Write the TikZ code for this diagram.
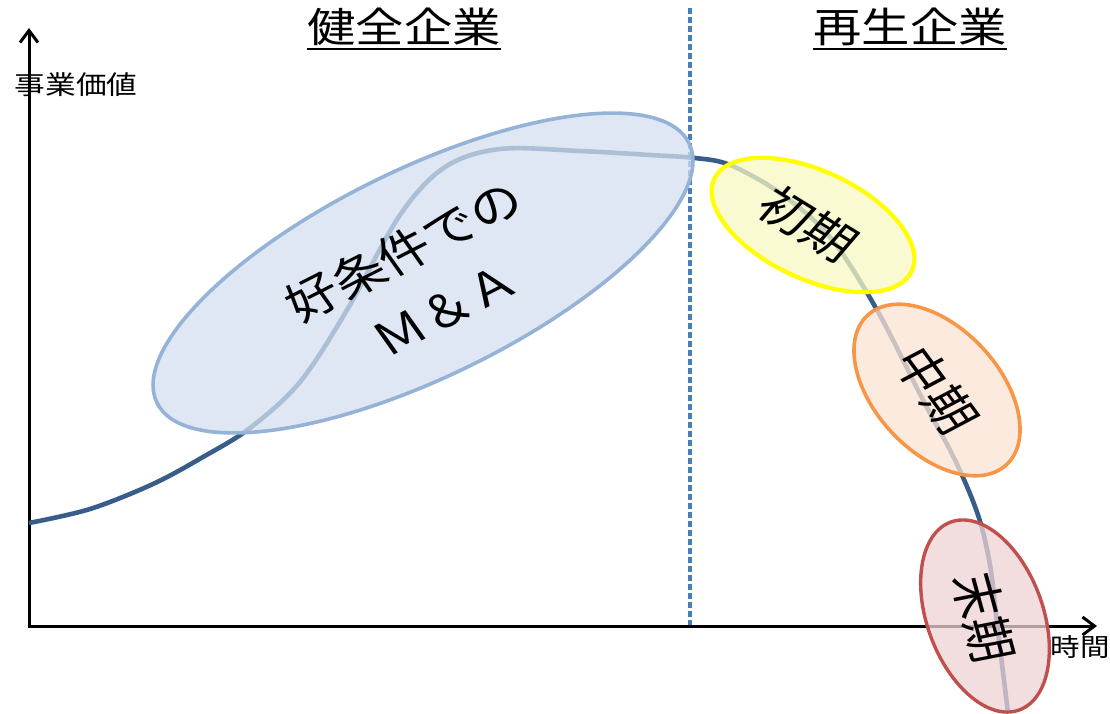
\documentclass[tikz,border=0pt]{standalone}
\usepackage{fontspec}
\setmainfont{Noto Sans CJK JP}
\usetikzlibrary{arrows.meta,shapes.geometric}
\definecolor{curveblue}{HTML}{385D8A}
\definecolor{dashblue}{HTML}{4A7EBB}
\definecolor{mastroke}{HTML}{95B3D7}
\definecolor{mafill}{RGB}{212,224,239}
\definecolor{ystroke}{HTML}{FFFF00}
\definecolor{yfill}{RGB}{248,248,195}
\definecolor{ostroke}{HTML}{F79646}
\definecolor{ofill}{RGB}{252,228,211}
\definecolor{rstroke}{HTML}{C0504D}
\definecolor{rfill}{RGB}{238,211,211}
\begin{document}
\begin{tikzpicture}[x=1pt,y=1pt,
  axisline/.style={line width=3pt, black, -{Straight Barb[length=12pt,width=18pt]}},
  valcurve/.style={line width=4.6pt, curveblue},
  divider/.style={line width=3.2pt, dashblue, dash pattern=on 6pt off 3pt},
  phase/.style={ellipse, inner sep=0pt, fill opacity=0.75, draw opacity=1, line width=3.6pt},
  lbl/.style={inner sep=0pt, xscale=1.18},
]
\fill[white] (0,0) rectangle (1110,-713);
\useasboundingbox (0,0) rectangle (1110,-713);

% divider
\coordinate (d1) at (690,-8);
\coordinate (d2) at (690,-626);
\draw[divider] (d1) -- (d2);

% axes
\coordinate (O) at (29,-626);
\coordinate (ytip) at (29,-28);
\coordinate (xtip) at (1097,-626);
\draw[axisline] ([yshift=-1.5pt]O) -- (ytip);
\draw[axisline] ([xshift=-1.5pt]O) -- (xtip);

% value curve
\draw[valcurve] plot[smooth, tension=0.55] coordinates {
 (29,-523) (90,-509) (153,-484) (203,-457) (250,-428) (300,-382) (347,-310) (400,-215)
 (445,-167) (500,-149) (580,-151) (650,-155) (695,-158) (730,-165) (780,-193)
 (830,-237) (877,-310) (923,-400) (955,-460) (978,-515) (990,-565) (997,-623) (1008,-713)};

% phase ellipses
\node[phase, draw=mastroke, fill=mafill, minimum width=592pt, minimum height=208pt, rotate=26] (ma) at (423,-273) {};
\node[phase, draw=ystroke, fill=yfill, line width=4.2pt, minimum width=218pt, minimum height=108pt, rotate=-25] (early) at (813,-225) {};
\node[phase, draw=ostroke, fill=ofill, minimum width=204pt, minimum height=124pt, rotate=-47] (mid) at (937,-390) {};
\node[phase, draw=rstroke, fill=rfill, line width=3.4pt, minimum width=200pt, minimum height=116pt, rotate=-70] (late) at (985,-616) {};

% texts
\node[lbl, font=\fontsize{45}{68}\selectfont, align=center, rotate=31] (matxt) at (424,-279) {好条件での\\Ｍ＆Ａ};
\node[lbl, font=\fontsize{45}{54}\selectfont, rotate=-36] (t1) at (808,-224) {初期};
\node[lbl, font=\fontsize{45}{54}\selectfont, rotate=-58] (t2) at (937,-390) {中期};
\node[lbl, font=\fontsize{45}{54}\selectfont, rotate=-77] (t3) at (984,-618) {末期};

\node[lbl, font=\fontsize{41}{48}\selectfont, anchor=base] (h1) at (404,-42) {健全企業};
\draw[line width=2.2pt] ([yshift=-7pt]h1.base west) -- ([yshift=-7pt]h1.base east);
\node[lbl, font=\fontsize{41}{48}\selectfont, anchor=base] (h2) at (910,-42) {再生企業};
\draw[line width=2.2pt] ([yshift=-7pt]h2.base west) -- ([yshift=-7pt]h2.base east);

\node[lbl, font=\fontsize{26}{30}\selectfont, anchor=base] (yl) at (76,-94) {事業価値};
\node[lbl, font=\fontsize{25}{30}\selectfont, anchor=base] (xl) at (1080,-656) {時間};
\end{tikzpicture}
\end{document}
